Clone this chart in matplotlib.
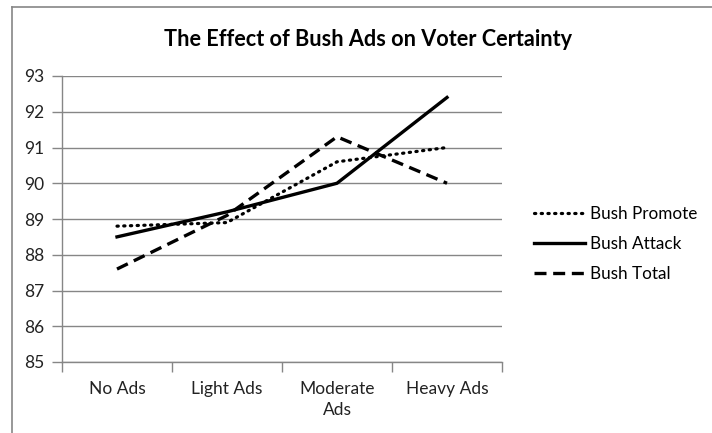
import matplotlib.pyplot as plt
from matplotlib.lines import Line2D

categories = ["No Ads", "Light Ads", "Moderate\nAds", "Heavy Ads"]
bush_promote = [88.8, 88.9, 90.6, 91.0]
bush_attack = [88.5, 89.2, 90.0, 92.4]
bush_total = [87.6, 89.1, 91.3, 90.0]
y_ticks = [85, 86, 87, 88, 89, 90, 91, 92, 93]

plt.rcParams["font.family"] = ["Lato", "DejaVu Sans"]
grey = "#868686"

fig = plt.figure(figsize=(7.12, 4.33), dpi=100)
ax = fig.add_axes([62 / 712, 1 - 362 / 433, 440 / 712, 286 / 433])

x = range(len(categories))
ax.plot(x, bush_promote, color="black", lw=2.3, linestyle=(0, (0.4, 1.7)),
        dash_capstyle="round", label="Bush Promote")
ax.plot(x, bush_attack, color="black", lw=2.4, label="Bush Attack")
ax.plot(x, bush_total, color="black", lw=2.4, linestyle=(0, (3.6, 2.0)),
        label="Bush Total")

ax.set_xlim(-0.5, 3.5)
ax.set_ylim(85, 93)
ax.set_yticks(y_ticks)
ax.yaxis.grid(True, color=grey, lw=1)
ax.set_axisbelow(True)

ax.set_xticks(list(x))
ax.set_xticklabels(categories, fontsize=12.5, color="#222222", linespacing=1.35)
ax.set_xticks([-0.5, 0.5, 1.5, 2.5, 3.5], minor=True)
ax.tick_params(axis="x", which="major", length=0, pad=14)
ax.tick_params(axis="x", which="minor", length=7, color=grey, width=1)
ax.tick_params(axis="y", length=7, color=grey, width=1, labelsize=12.5,
               labelcolor="#222222", pad=6)

for side in ["top", "right"]:
    ax.spines[side].set_visible(False)
for side in ["left", "bottom"]:
    ax.spines[side].set_color(grey)
    ax.spines[side].set_linewidth(1)

fig.text(368 / 712, 1 - 40 / 433, "The Effect of Bush Ads on Voter Certainty",
         ha="center", va="center", fontsize=15.6, fontweight="bold")

fig.legend(loc="center left", bbox_to_anchor=(527 / 712, 1 - 244 / 433),
           frameon=False, fontsize=12.3, handlelength=3.0, handletextpad=0.3,
           labelspacing=0.8, borderaxespad=0)

# outer frame, open on the right and bottom
fig.add_artist(Line2D([12 / 712, 1], [1 - 7 / 433, 1 - 7 / 433],
                      transform=fig.transFigure, color=grey, lw=1.2))
fig.add_artist(Line2D([12 / 712, 12 / 712], [0, 1 - 7 / 433],
                      transform=fig.transFigure, color=grey, lw=1.2))

fig.savefig("out.png", dpi=100)
